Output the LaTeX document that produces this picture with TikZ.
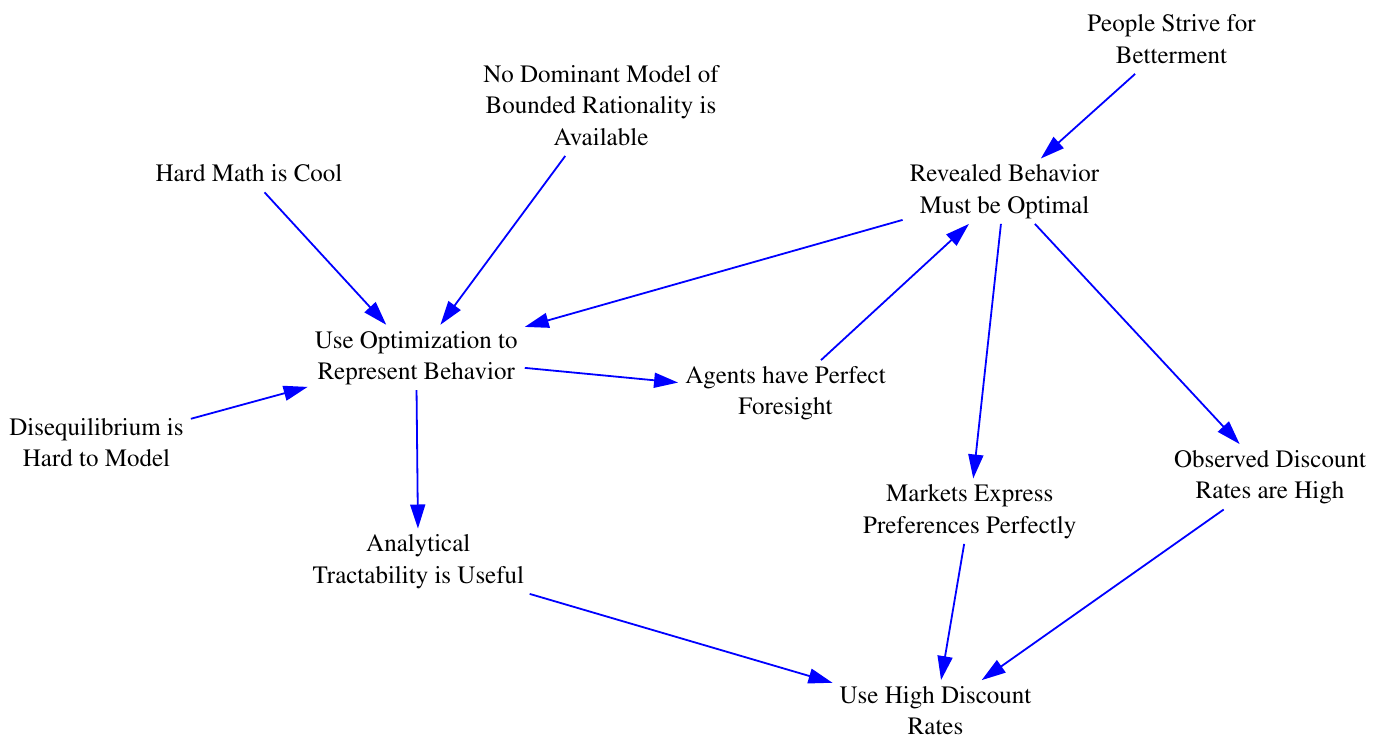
\documentclass[tikz,border=0pt]{standalone}
\usepackage[T1]{fontenc}
\renewcommand{\rmdefault}{ptm}
\usetikzlibrary{arrows.meta}
\definecolor{arrowblue}{RGB}{0,0,255}
\tikzset{
  var/.style={align=center, inner xsep=7pt, inner ysep=1pt,
    font=\rmfamily\fontsize{25}{31.5}\selectfont, text=black},
  link/.style={draw=arrowblue, line width=1.8pt,
    -{Triangle[length=24pt, width=15pt]}}
}
\begin{document}
\begin{tikzpicture}[x=1pt, y=-1pt]
\useasboundingbox[fill=white] (0,0) rectangle (1375,739);
\node[var] (people) at (1171.5,41.2) {\strut People Strive for\\Betterment\strut};
\node[var] (nodom) at (601,107.5) {\strut No Dominant Model of\\Bounded Rationality is\\Available\strut};
\node[var] (hardmath) at (249,175.4) {\strut Hard Math is Cool\strut};
\node[var] (revealed) at (1004.5,191.2) {\strut Revealed Behavior\\Must be Optimal\strut};
\node[var] (useopt) at (416.2,357.5) {\strut Use Optimization to\\Represent Behavior\strut};
\node[var] (agents) at (785.5,392.8) {\strut Agents have Perfect\\Foresight\strut};
\node[var] (diseq) at (96.5,444.5) {\strut Disequilibrium is\\Hard to Model\strut};
\node[var] (observed) at (1270,476.8) {\strut Observed Discount\\Rates are High\strut};
\node[var] (markets) at (969.7,511.2) {\strut Markets Express\\Preferences Perfectly\strut};
\node[var] (analytical) at (418.3,561.2) {\strut Analytical\\Tractability is Useful\strut};
\node[var] (usehigh) at (935.5,712.8) {\strut Use High Discount\\Rates\strut};

\draw[link] (hardmath) -- (useopt);
\draw[link] (nodom) -- (useopt);
\draw[link] (revealed) -- (useopt);
\draw[link] (diseq) -- (useopt);
\draw[link] (useopt) -- (agents);
\draw[link] (useopt) -- (analytical);
\draw[link] (agents) -- (revealed);
\draw[link] (people) -- (revealed);
\draw[link] (revealed) -- (markets);
\draw[link] (revealed) -- (observed);
\draw[link] (analytical) -- (usehigh);
\draw[link] (markets) -- (usehigh);
\draw[link] (observed) -- (usehigh);
\end{tikzpicture}
\end{document}
